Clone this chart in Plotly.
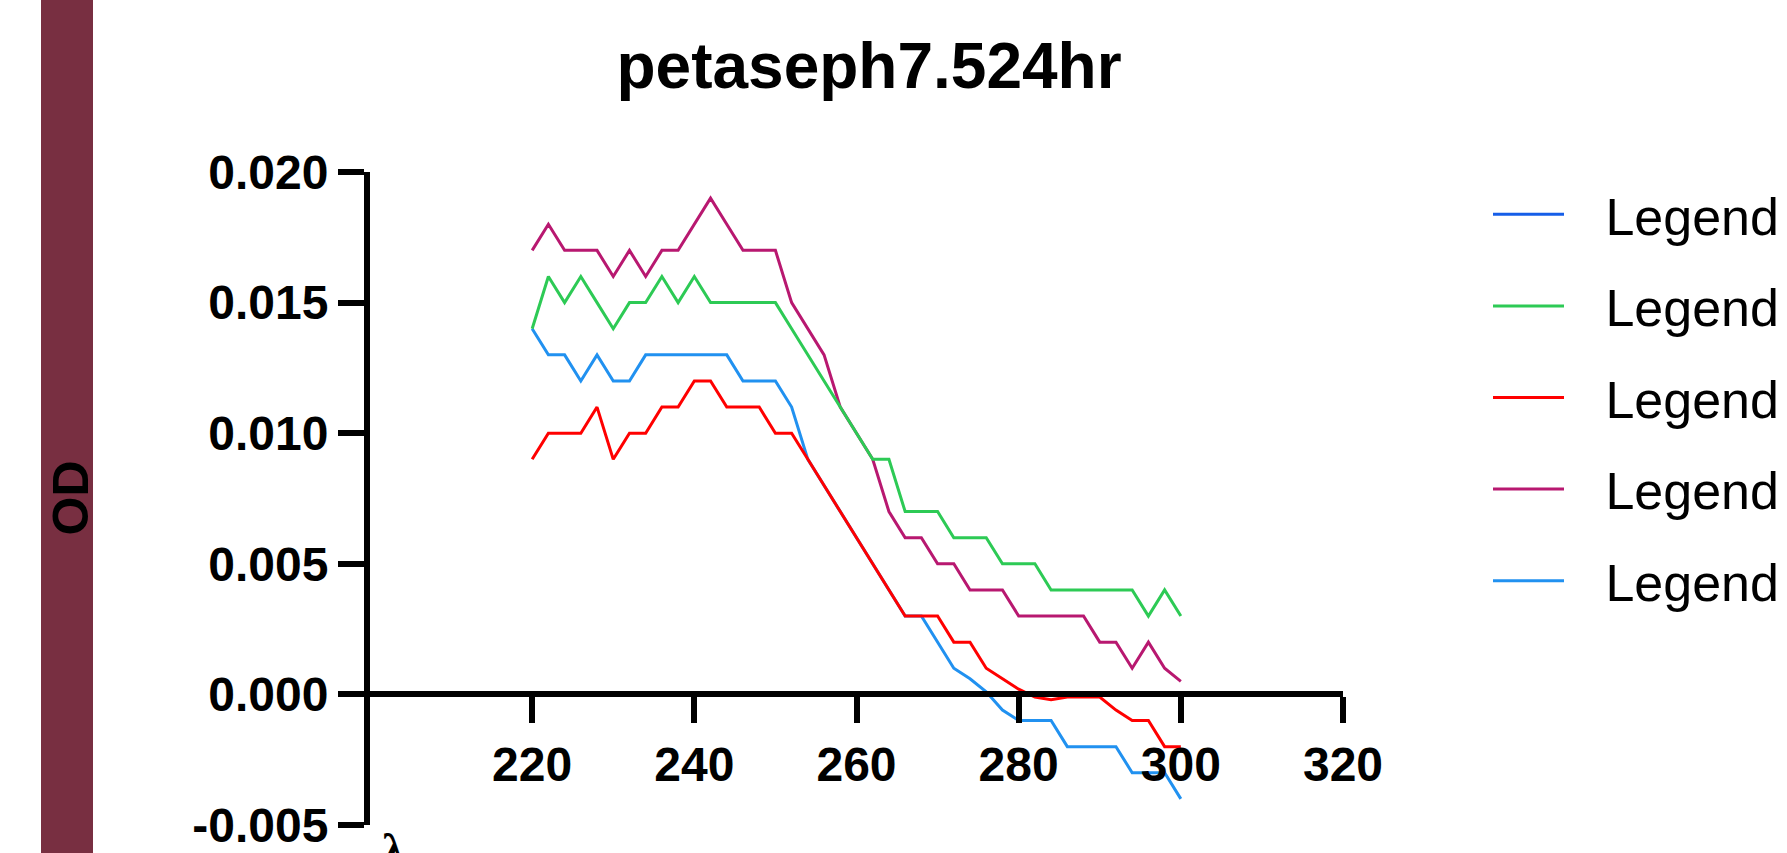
import plotly.graph_objects as go

W, H = 1787, 853

wavelength = [220, 222, 224, 226, 228, 230, 232, 234, 236, 238, 240, 242, 244, 246, 248, 250,
              252, 254, 256, 258, 260, 262, 264, 266, 268, 270, 272, 274, 276, 278, 280, 282,
              284, 286, 288, 290, 292, 294, 296, 298, 300]

series_green = [0.014, 0.016, 0.015, 0.016, 0.015, 0.014, 0.015, 0.015, 0.016, 0.015, 0.016, 0.015,
                0.015, 0.015, 0.015, 0.015, 0.014, 0.013, 0.012, 0.011, 0.010, 0.009, 0.009, 0.007,
                0.007, 0.007, 0.006, 0.006, 0.006, 0.005, 0.005, 0.005, 0.004, 0.004, 0.004, 0.004,
                0.004, 0.004, 0.003, 0.004, 0.003]

series_red = [0.009, 0.010, 0.010, 0.010, 0.011, 0.009, 0.010, 0.010, 0.011, 0.011, 0.012, 0.012,
              0.011, 0.011, 0.011, 0.010, 0.010, 0.009, 0.008, 0.007, 0.006, 0.005, 0.004, 0.003,
              0.003, 0.003, 0.002, 0.002, 0.001, 0.0006, 0.0002, -0.0001, -0.0002, -0.0001, -0.0001,
              -0.0001, -0.0006, -0.001, -0.001, -0.002, -0.002]

series_purple = [0.017, 0.018, 0.017, 0.017, 0.017, 0.016, 0.017, 0.016, 0.017, 0.017, 0.018, 0.019,
                 0.018, 0.017, 0.017, 0.017, 0.015, 0.014, 0.013, 0.011, 0.010, 0.009, 0.007, 0.006,
                 0.006, 0.005, 0.005, 0.004, 0.004, 0.004, 0.003, 0.003, 0.003, 0.003, 0.003, 0.002,
                 0.002, 0.001, 0.002, 0.001, 0.0005]

series_lightblue = [0.014, 0.013, 0.013, 0.012, 0.013, 0.012, 0.012, 0.013, 0.013, 0.013, 0.013, 0.013,
                    0.013, 0.012, 0.012, 0.012, 0.011, 0.009, 0.008, 0.007, 0.006, 0.005, 0.004, 0.003,
                    0.003, 0.002, 0.001, 0.0006, 0.0001, -0.0006, -0.001, -0.001, -0.001, -0.002, -0.002,
                    -0.002, -0.002, -0.003, -0.003, -0.003, -0.004]

series_darkblue = [None]  # legend entry only; no visible data in the chart

legend_names = ["Legend", "Legend", "Legend", "Legend", "Legend"]
x_ticks = [220, 240, 260, 280, 300, 320]
y_ticks = [0.020, 0.015, 0.010, 0.005, 0.000, -0.005]
y_ticklabels = ["0.020", "0.015", "0.010", "0.005", "0.000", "-0.005"]

title_text = "petaseph7.524hr"
y_title = "OD"
x_title = "λ"

C_DARKBLUE = "rgb(22,94,232)"
C_GREEN = "rgb(45,202,85)"
C_RED = "rgb(255,0,0)"
C_PURPLE = "rgb(184,24,112)"
C_LIGHTBLUE = "rgb(33,145,240)"
C_BAR = "rgb(120,47,65)"

FONT = "Liberation Sans, Arial, Helvetica, sans-serif"
LEG_PAD = "\u2002\u2009"

ML, MR, MT, MB = 370, 444, 172, 28
PW = W - ML - MR
PH = H - MT - MB

fig = go.Figure()

# drawing order: bottom first (light blue, purple, red, green, dark blue)
traces = [
    (series_lightblue, C_LIGHTBLUE, 5),
    (series_purple, C_PURPLE, 4),
    (series_red, C_RED, 3),
    (series_green, C_GREEN, 2),
    (series_darkblue, C_DARKBLUE, 1),
]
for vals, col, rank in traces:
    xs = wavelength[:len(vals)]
    fig.add_trace(go.Scatter(
        x=xs, y=vals, mode="lines", name=LEG_PAD + legend_names[rank - 1],
        line=dict(color=col, width=3), legendrank=rank, legendgroup="g%d" % rank,
        showlegend=True,
    ))

fig.update_layout(
    template="none",
    width=W, height=H,
    margin=dict(l=ML, r=MR, t=MT, b=MB, pad=0, autoexpand=False),
    paper_bgcolor="white", plot_bgcolor="white",
    font=dict(family=FONT, color="black"),
    title=dict(text=title_text, x=869 / W, xref="container", xanchor="center",
               y=1 - 66 / H, yref="container", yanchor="middle",
               font=dict(size=64, family=FONT, weight="bold", color="black")),
    xaxis=dict(range=[200, 320], tickvals=x_ticks, showgrid=False, zeroline=False,
               showline=True, linecolor="black", linewidth=6, automargin=False,
               ticks="outside", ticklen=26, tickwidth=6, tickcolor="black",
               anchor="free", position=0.2,
               tickfont=dict(size=48, family=FONT, weight="bold", color="black")),
    yaxis=dict(range=[-0.005, 0.020], tickvals=y_ticks, ticktext=y_ticklabels,
               showgrid=False, zeroline=False, automargin=False,
               showline=True, linecolor="black", linewidth=6,
               ticks="outside", ticklen=26, tickwidth=6, tickcolor="black",
               tickfont=dict(size=48, family=FONT, weight="bold", color="black")),
    legend=dict(x=(1488 - ML) / PW, xanchor="left", y=1 - (174 - MT) / PH, yanchor="top",
                font=dict(size=52, family=FONT, color="black"),
                traceorder="grouped", tracegroupgap=21, itemwidth=71,
                bgcolor="rgba(0,0,0,0)", borderwidth=0),
    shapes=[dict(type="rect", xref="paper", yref="paper", layer="below",
                 x0=(41 - ML) / PW, x1=(93 - ML) / PW,
                 y0=-(MB + 5) / PH, y1=1 + (MT + 5) / PH,
                 fillcolor=C_BAR, line=dict(width=0))],
    annotations=[
        dict(text=y_title, xref="paper", yref="paper", x=(70 - ML) / PW, y=0.5,
             textangle=-90, showarrow=False, xanchor="center", yanchor="middle",
             font=dict(size=50, family=FONT, weight="bold", color="black")),
        dict(text=x_title, xref="paper", yref="paper", x=(380 - ML) / PW, y=-(823 - MT - PH) / PH,
             showarrow=False, xanchor="left", yanchor="top",
             font=dict(size=46, family="Liberation Serif, Times New Roman, serif",
                       weight="bold", color="black")),
    ],
)

fig.write_html("out.html", config={"displayModeBar": False},
               post_script="document.body.style.margin='0';")
